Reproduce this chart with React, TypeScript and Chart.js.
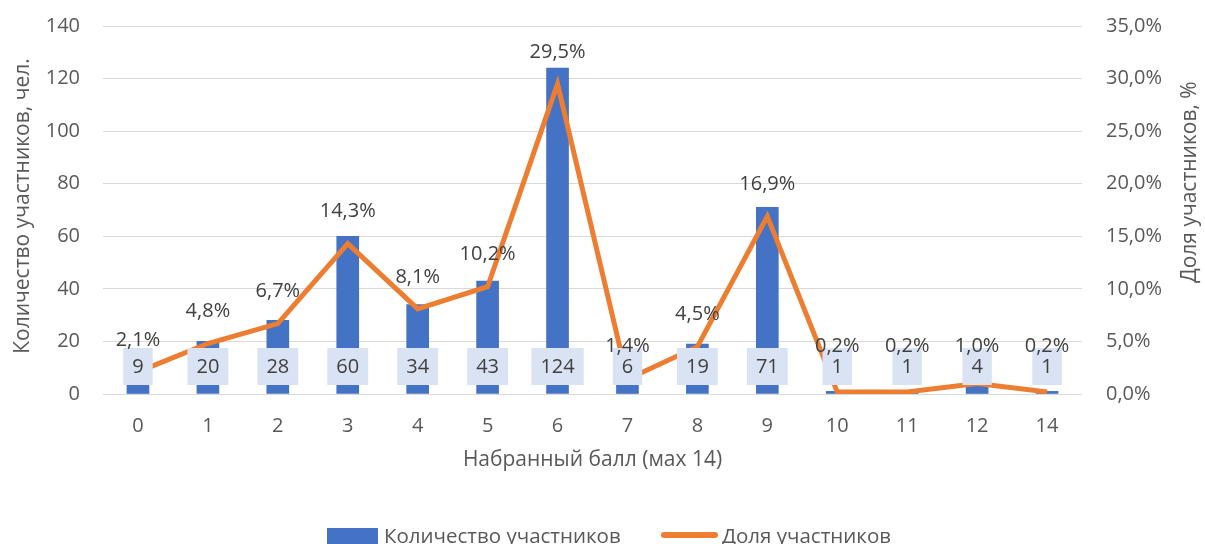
import React, { useEffect, useRef } from "react";
import { Chart, registerables } from "chart.js";

Chart.register(...registerables);

const categories = ["0", "1", "2", "3", "4", "5", "6", "7", "8", "9", "10", "11", "12", "14"];
const counts = [9, 20, 28, 60, 34, 43, 124, 6, 19, 71, 1, 1, 4, 1];
const shares = [2.1, 4.8, 6.7, 14.3, 8.1, 10.2, 29.5, 1.4, 4.5, 16.9, 0.2, 0.2, 1.0, 0.2];
const countTicks = [0, 20, 40, 60, 80, 100, 120, 140];
const shareTicks = [0, 5, 10, 15, 20, 25, 30, 35];

const seriesCount = "Количество участников";
const seriesShare = "Доля участников";
const xTitle = "Набранный балл (мах 14)";
const yTitle = "Количество участников, чел.";
const y1Title = "Доля участников, %";

const BLUE = "#4472C4";
const ORANGE = "#ED7D31";
const BOX = "#DAE3F3";
const AXIS_TEXT = "#595959";
const LABEL_TEXT = "#404040";
const FONT = "'Open Sans', sans-serif";

const fmtPct = (v: number) => v.toFixed(1).replace(".", ",") + "%";

const overlayPlugin = {
  id: "overlay",
  afterDatasetsDraw(chart: any) {
    const ctx = chart.ctx;
    const barMeta = chart.getDatasetMeta(0);
    const lineMeta = chart.getDatasetMeta(1);
    ctx.save();
    ctx.font = `20px ${FONT}`;
    ctx.textAlign = "center";
    ctx.textBaseline = "middle";
    const yBase = chart.scales.y.getPixelForValue(0);
    barMeta.data.forEach((el: any, i: number) => {
      const txt = String(counts[i]);
      const w = ctx.measureText(txt).width + 18;
      const h = 37;
      const cy = yBase - 27.5;
      ctx.fillStyle = BOX;
      ctx.fillRect(el.x - w / 2, cy - h / 2, w, h);
      ctx.fillStyle = LABEL_TEXT;
      ctx.fillText(txt, el.x, cy + 1);
    });
    lineMeta.data.forEach((el: any, i: number) => {
      const txt = fmtPct(shares[i]);
      const y = Math.min(el.y - 32, yBase - 48);
      ctx.fillStyle = LABEL_TEXT;
      ctx.fillText(txt, el.x, y);
    });
    ctx.restore();
  },
  afterDraw(chart: any) {
    const ctx = chart.ctx;
    const area = chart.chartArea;
    ctx.save();
    ctx.fillStyle = AXIS_TEXT;
    ctx.textBaseline = "middle";
    ctx.textAlign = "center";
    ctx.font = `21px ${FONT}`;
    ctx.fillText(xTitle, (area.left + area.right) / 2, 460);
    ctx.save();
    ctx.translate(23, 206);
    ctx.rotate(-Math.PI / 2);
    ctx.fillText(yTitle, 0, 0);
    ctx.restore();
    ctx.save();
    ctx.translate(1190, 182);
    ctx.rotate(-Math.PI / 2);
    ctx.fillText(y1Title, 0, 0);
    ctx.restore();
    ctx.font = `20.5px ${FONT}`;
    ctx.textAlign = "left";
    ctx.fillStyle = BLUE;
    ctx.fillRect(327, 528, 51, 17);
    ctx.fillStyle = AXIS_TEXT;
    ctx.fillText(seriesCount, 384, 537);
    ctx.strokeStyle = ORANGE;
    ctx.lineWidth = 6;
    ctx.lineCap = "round";
    ctx.beginPath();
    ctx.moveTo(664, 535);
    ctx.lineTo(715, 535);
    ctx.stroke();
    ctx.fillStyle = AXIS_TEXT;
    ctx.fillText(seriesShare, 722, 537);
    ctx.restore();
  },
};

export default function App() {
  const ref = useRef<HTMLCanvasElement | null>(null);
  useEffect(() => {
    document.body.style.margin = "0";
    if (!ref.current) return;
    const chart = new Chart(ref.current, {
      type: "bar",
      data: {
        labels: categories,
        datasets: [
          {
            type: "bar",
            label: seriesCount,
            data: counts,
            backgroundColor: BLUE,
            yAxisID: "y",
            barThickness: 22,
            order: 2,
          },
          {
            type: "line",
            label: seriesShare,
            data: shares,
            borderColor: ORANGE,
            backgroundColor: ORANGE,
            borderWidth: 5,
            pointRadius: 0,
            tension: 0,
            yAxisID: "y1",
            order: 1,
          } as any,
        ],
      },
      options: {
        responsive: false,
        animation: false,
        devicePixelRatio: 1,
        layout: { padding: { top: 26, left: 0, right: 0, bottom: 0 } },
        plugins: {
          legend: { display: false },
          tooltip: { enabled: false },
        },
        scales: {
          x: {
            grid: { display: false },
            border: { display: false },
            ticks: { color: AXIS_TEXT, font: { family: FONT, size: 20 }, padding: 12 },
            afterFit(scale: any) {
              scale.height = 166;
              scale.paddingLeft = 0;
              scale.paddingRight = 0;
            },
          },
          y: {
            position: "left",
            min: 0,
            max: 140,
            afterBuildTicks(scale: any) {
              scale.ticks = countTicks.map((v) => ({ value: v }));
            },
            grid: { color: "#D9D9D9", lineWidth: 1, drawTicks: false },
            border: { display: false },
            ticks: { color: AXIS_TEXT, font: { family: FONT, size: 20 }, padding: 23 },
            afterFit(scale: any) {
              scale.width = 103;
              scale.paddingTop = 0;
              scale.paddingBottom = 0;
            },
          },
          y1: {
            position: "right",
            min: 0,
            max: 35,
            afterBuildTicks(scale: any) {
              scale.ticks = shareTicks.map((v) => ({ value: v }));
            },
            grid: { display: false, drawTicks: false },
            border: { display: false },
            ticks: {
              color: AXIS_TEXT,
              font: { family: FONT, size: 20 },
              padding: 24,
              callback: (v: any) => fmtPct(Number(v)),
            },
            afterFit(scale: any) {
              scale.width = 123;
              scale.paddingTop = 0;
              scale.paddingBottom = 0;
            },
          },
        },
      },
      plugins: [overlayPlugin],
    });
    return () => chart.destroy();
  }, []);
  return (
    <div style={{ width: 1205, height: 544, overflow: "hidden" }}>
      <canvas ref={ref} width={1205} height={560} style={{ display: "block" }} />
    </div>
  );
}
